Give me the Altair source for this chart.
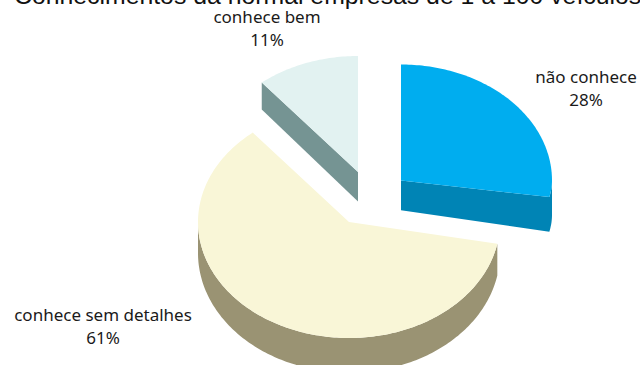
import math
import altair as alt

# Survey answers, as percentages of respondents
categories = ["não conhece", "conhece sem detalhes", "conhece bem"]
shares = [28, 61, 11]
title_text = "Conhecimentos da normal empresas de 1 a 100 veículos"

# Slice colours: upper face, then side wall
top_colors = ["#00ADEF", "#F9F6D7", "#E2F2F1"]
side_colors = ["#0084B5", "#9A9373", "#759493"]

# Tilted-pie layout in pixels
RX, RY = 151, 116
apexes = [(401, 180.5), (349, 222), (358, 172)]
front_squash = [0.76, 1.0, 1.0]   # foreshortening of the near half of each slice
wall_flare = [0.03, 0.0, 0.0]     # wall height gained per pixel away from the apex
label_anchors = [(586, 78), (103, 316), (267, 18)]
LINE_GAP = 23


def depth(y):
    """Wall height grows slightly towards the viewer."""
    return 27 + 0.03 * (y - 88)


def outline(start, share, apex, squash):
    """Upper-face outline of one slice, clockwise from twelve o'clock."""
    sweep = share / 100 * 2 * math.pi
    steps = max(2, round(share * 3.6))
    pts = [list(apex)]
    for i in range(steps + 1):
        a = start + sweep * i / steps
        c = math.cos(a)
        pts.append([apex[0] + RX * math.sin(a), apex[1] - RY * c * (squash if c < 0 else 1)])
    pts.append(list(apex))
    return pts


def wall_quads(pts, apex, flare):
    """Outline swept downwards; only segments facing the viewer, all wound alike."""
    def lower(p):
        return [p[0], p[1] + depth(p[1]) + flare * abs(p[0] - apex[0])]

    quads = []
    for p, q in zip(pts, pts[1:]):
        # A clockwise outline faces the viewer where it runs right to left
        if p[0] - q[0] > 1e-6:
            quads.append([[q, p, lower(p), lower(q), q]])
    return quads


def shape(geometry):
    return alt.Data(values=[{"type": "Feature", "properties": {}, "geometry": geometry}],
                    format=alt.DataFormat(type="json"))


layers = []
cumulative = 0.0
for share, apex, squash, flare, top, side in zip(shares, apexes, front_squash, wall_flare, top_colors, side_colors):
    start = cumulative / 100 * 2 * math.pi
    cumulative += share
    pts = outline(start, share, apex, squash)
    layers.append(
        alt.Chart(shape({"type": "MultiPolygon", "coordinates": wall_quads(pts, apex, flare)}))
        .mark_geoshape(fill=side, stroke=side, strokeWidth=0)
        .project(type="identity", scale=1, translate=[0, 0])
    )
    layers.append(
        alt.Chart(shape({"type": "Polygon", "coordinates": [pts]}))
        .mark_geoshape(fill=top, stroke=top, strokeWidth=0)
        .project(type="identity", scale=1, translate=[0, 0])
    )

# Slice labels: name above percentage
for name, share, (x, y) in zip(categories, shares, label_anchors):
    for line, text in enumerate([name, f"{share}%"]):
        layers.append(
            alt.Chart(alt.Data(values=[{"t": text}]))
            .mark_text(font="Noto Sans", fontSize=17, color="#1a1a1a", align="center", baseline="middle")
            .encode(text="t:N", x=alt.value(x), y=alt.value(y + line * LINE_GAP))
        )

# Heading, cut by the top edge of the page
layers.append(
    alt.Chart(alt.Data(values=[{"t": title_text}]))
    .mark_text(font="Liberation Sans", fontSize=24.8, color="#111111", align="left", baseline="alphabetic")
    .encode(text="t:N", x=alt.value(14), y=alt.value(4))
)

chart = (
    alt.layer(*layers)
    .properties(width=640, height=365, padding=0, autosize=alt.AutoSizeParams(type="none"))
    .configure_view(stroke=None)
)
chart.save("out.html", embed_options={"renderer": "svg", "actions": False})
